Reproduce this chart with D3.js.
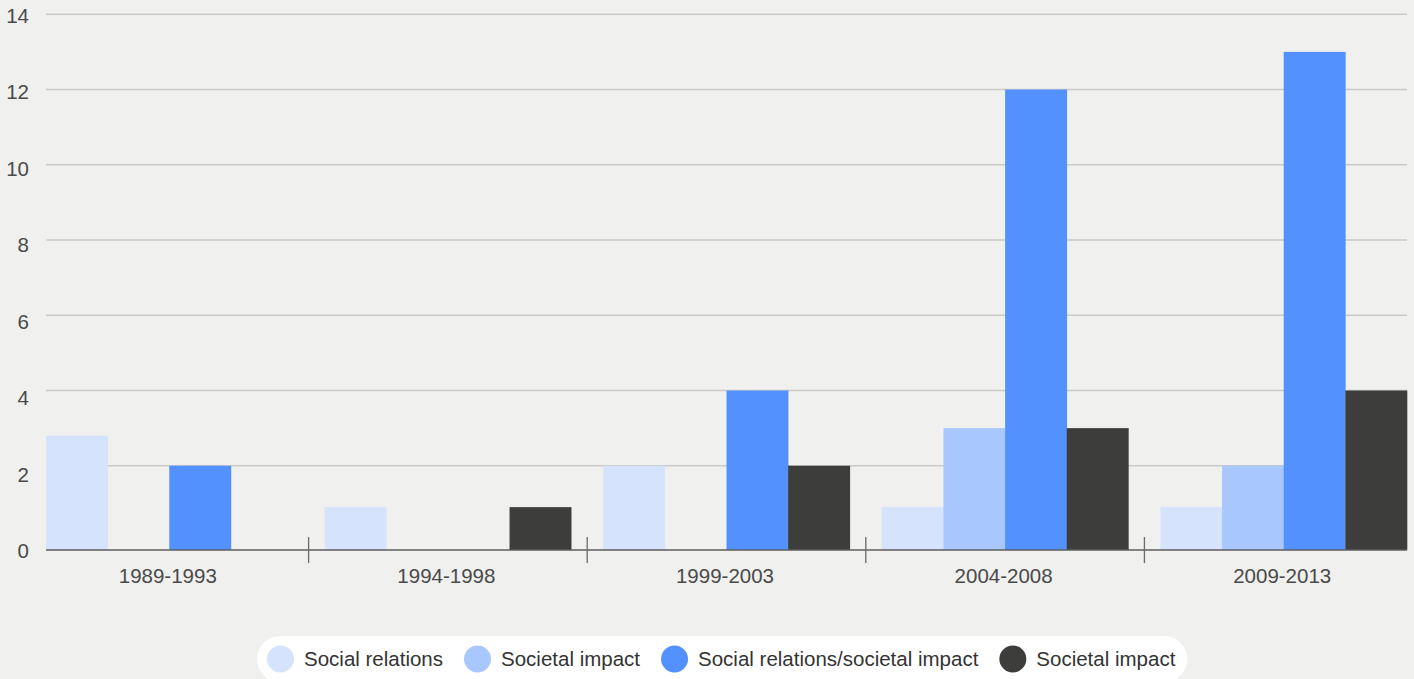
<!DOCTYPE html>
<html>
<head>
<meta charset="utf-8">
<script src="https://cdn.jsdelivr.net/npm/d3@7"></script>
<style>
  html, body { margin: 0; padding: 0; background: #f0f0ee; }
  svg { display: block; }
  text { font-family: "Liberation Sans", Arial, Helvetica, sans-serif; }
</style>
</head>
<body>
<svg id="chart" width="1414" height="679"></svg>
<script>
// Publication periods
const categories = ["1989-1993", "1994-1998", "1999-2003", "2004-2008", "2009-2013"];

// Series values per period
const socialRelations = [2.8, 0.9, 2, 0.9, 0.9];
const societalImpactLight = [0, 0, 0, 3, 2];
const socialRelationsSocietal = [2, 0, 4, 12, 13];
const societalImpactDark = [0, 0.9, 2, 3, 4];

const seriesNames = ["Social relations", "Societal impact", "Social relations/societal impact", "Societal impact"];
const seriesColors = ["#d5e3fd", "#a8c7fe", "#5391ff", "#3d3d3c"];
const yTicks = [0, 2, 4, 6, 8, 10, 12, 14];

const seriesValues = [socialRelations, societalImpactLight, socialRelationsSocietal, societalImpactDark];

const svg = d3.select("#chart");
const W = 1414, H = 679;
svg.append("rect").attr("width", W).attr("height", H).attr("fill", "#f0f0ee");

const plotLeft = 46, plotRight = 1407;

// Value scale for grid and bars; axis scale for the baseline and tick labels
const y = d3.scaleLinear().domain([0, 14]).range([541, 14.3]);
const yAxis = d3.scaleLinear().domain([0, 14]).range([550, 14.3]);
const baseline = yAxis(0);

const x0 = d3.scaleBand().domain(categories).range([plotLeft, plotRight])
  .paddingInner(0.115).paddingOuter(0);
const x1 = d3.scaleBand().domain(d3.range(seriesNames.length)).range([0, x0.bandwidth()]).padding(0);

// Gridlines
svg.append("g").selectAll("line").data(yTicks.filter(t => t > 0)).join("line")
  .attr("x1", plotLeft).attr("x2", plotRight)
  .attr("y1", d => y(d)).attr("y2", d => y(d))
  .attr("stroke", "#c9c9c8").attr("stroke-width", 1.4);

// Y tick labels
svg.append("g").selectAll("text").data(yTicks).join("text")
  .attr("x", 29).attr("y", d => yAxis(d) + 3)
  .attr("text-anchor", "end").attr("dominant-baseline", "middle")
  .attr("font-size", 20.5).attr("fill", "#4a4a4a")
  .text(d => d);

// Bars
const groups = svg.append("g").selectAll("g").data(categories).join("g")
  .attr("transform", d => `translate(${x0(d)},0)`);

groups.selectAll("rect")
  .data((c, i) => seriesValues.map((vals, s) => ({ s, v: vals[i] })))
  .join("rect")
  .attr("x", d => x1(d.s))
  .attr("width", x1.bandwidth() + 0.3)
  .attr("y", d => d.v > 0 ? y(d.v) : baseline)
  .attr("height", d => d.v > 0 ? baseline - y(d.v) : 0)
  .attr("fill", d => seriesColors[d.s]);

// X axis line
svg.append("line")
  .attr("x1", plotLeft).attr("x2", plotRight)
  .attr("y1", baseline).attr("y2", baseline)
  .attr("stroke", "#5e5e5e").attr("stroke-width", 1.6);

// Dividers between periods
const dividers = categories.slice(1).map((c, i) => (x0(categories[i]) + x0.bandwidth() + x0(c)) / 2);
svg.append("g").selectAll("line").data(dividers).join("line")
  .attr("x1", d => d).attr("x2", d => d)
  .attr("y1", baseline - 13).attr("y2", baseline + 13)
  .attr("stroke", "#6a6a6a").attr("stroke-width", 1.3);

// Category labels
svg.append("g").selectAll("text").data(categories).join("text")
  .attr("x", d => x0(d) + x0.bandwidth() / 2 - 1.5)
  .attr("y", 583)
  .attr("text-anchor", "middle")
  .attr("font-size", 20.5).attr("fill", "#4a4a4a")
  .text(d => d);

// Legend
const legend = svg.append("g");
const r = 13.5;
const cy = 659;
let cursor = 267;
const items = [];
seriesNames.forEach((name, i) => {
  const g = legend.append("g");
  g.append("circle").attr("cx", cursor + r).attr("cy", cy).attr("r", r).attr("fill", seriesColors[i]);
  const t = g.append("text").attr("x", cursor + 2 * r + 10).attr("y", cy + 7)
    .attr("font-size", 20.5).attr("fill", "#333").text(name);
  const w = t.node().getComputedTextLength();
  items.push(cursor + 2 * r + 10 + w);
  cursor = cursor + 2 * r + 10 + w + 21;
});
const pillLeft = 257, pillRight = items[items.length - 1] + 12;
legend.insert("rect", ":first-child")
  .attr("x", pillLeft).attr("y", 636)
  .attr("width", pillRight - pillLeft).attr("height", 46)
  .attr("rx", 23).attr("ry", 23)
  .attr("fill", "#ffffff");
</script>
</body>
</html>
